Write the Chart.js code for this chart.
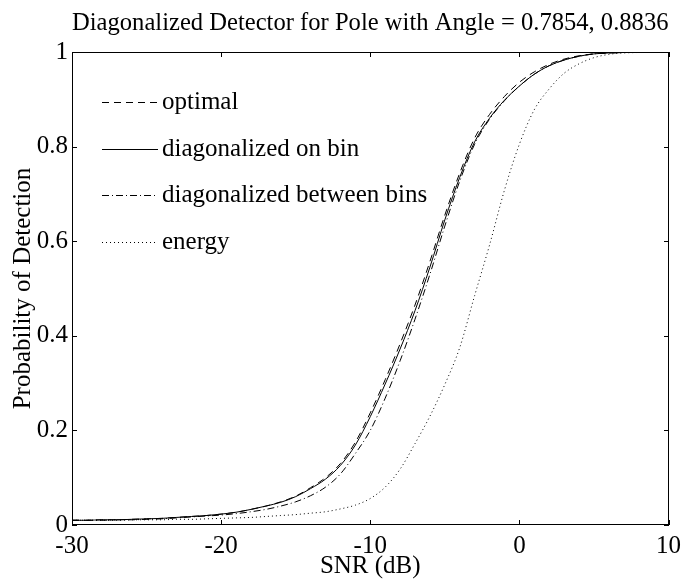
<!DOCTYPE html>
<html lang="en">
<head>
<meta charset="UTF-8">
<title>Diagonalized Detector for Pole with Angle = 0.7854, 0.8836</title>
<script src="https://cdn.jsdelivr.net/npm/chart.js"></script>
<style>
    html, body { margin: 0; padding: 0; background: #fff; }
    #wrap { width: 687px; height: 579px; }
</style>
</head>
<body>
<div id="wrap"><canvas id="pdChart" width="687" height="579"></canvas></div>
<script>
    // SNR in dB (x axis)
    const snr = [-30,-29,-28,-27,-26,-25,-24,-23,-22,-21,-20,-19,-18,-17,-16,-15,-14,-13,-12,-11,
                 -10,-9,-8,-7,-6,-5,-4,-3,-2,-1,0,1,2,3,4,5,6,7,8,9,10];

    // probability of detection
    const optimal = [.010,.010,.011,.011,.012,.013,.014,.016,.018,.020,
                     .023,.027,.033,.040,.049,.061,.079,.100,.130,.175,
                     .237,.307,.383,.465,.557,.655,.744,.818,.868,.906,
                     .936,.958,.974,.985,.992,.996,.998,.999,1,1,1];
    const onBin = [.010,.010,.011,.011,.012,.013,.014,.016,.018,.020,
                   .023,.027,.033,.040,.048,.060,.077,.097,.126,.169,
                   .229,.298,.372,.453,.545,.645,.735,.810,.860,.898,
                   .928,.953,.971,.983,.991,.996,.998,.999,1,1,1];
    const betweenBins = [.010,.010,.010,.011,.011,.012,.013,.015,.017,.019,
                         .021,.024,.028,.033,.040,.049,.062,.080,.108,.151,
                         .200,.268,.347,.435,.530,.632,.727,.805,.858,.897,
                         .928,.953,.971,.983,.991,.996,.998,.999,1,1,1];
    const energy = [.010,.010,.010,.010,.011,.011,.011,.012,.012,.013,
                    .014,.015,.016,.018,.020,.022,.025,.028,.034,.042,
                    .056,.080,.118,.172,.230,.297,.375,.485,.592,.708,
                    .805,.878,.922,.955,.975,.988,.995,.998,.999,1,1];

    const xTicks = [-30, -20, -10, 0, 10];
    const yTicks = [0, 0.2, 0.4, 0.6, 0.8, 1];

    const FONT = 'Liberation Serif, Times New Roman, serif';

    function toPoints(arr) {
        return snr.map((s, i) => ({ x: s, y: arr[i] }));
    }

    function series(label, arr, dash) {
        return {
            label: label,
            data: toPoints(arr),
            borderColor: '#000',
            borderWidth: 1,
            borderDash: dash,
            pointRadius: 0,
            fill: false,
            cubicInterpolationMode: 'monotone'
        };
    }

    // box, inward ticks and the legend, matlab style
    const matlabBox = {
        id: 'matlabBox',
        afterDatasetsDraw(chart) {
            const { ctx, chartArea: a, scales } = chart;
            const L = Math.round(a.left), R = Math.round(a.right);
            const T = Math.round(a.top), B = Math.round(a.bottom);
            ctx.save();
            ctx.strokeStyle = '#000';
            ctx.lineWidth = 1;
            ctx.setLineDash([]);
            ctx.strokeRect(L + 0.5, T + 0.5, R - L - 1, B - T - 1);
            ctx.beginPath();
            xTicks.forEach(v => {
                const px = Math.round(scales.x.getPixelForValue(v)) + 0.5;
                ctx.moveTo(px, B); ctx.lineTo(px, B - 5);
                ctx.moveTo(px, T); ctx.lineTo(px, T + 5);
            });
            yTicks.forEach(v => {
                const py = Math.round(scales.y.getPixelForValue(v)) + 0.5;
                ctx.moveTo(L, py); ctx.lineTo(L + 5, py);
                ctx.moveTo(R, py); ctx.lineTo(R - 5, py);
            });
            ctx.stroke();

            // legend
            ctx.font = '25px ' + FONT;
            ctx.fillStyle = '#000';
            ctx.textBaseline = 'middle';
            ctx.textAlign = 'left';
            chart.data.datasets.forEach((ds, i) => {
                const yy = Math.round(T + 50 + i * 46.7) + 0.5;
                ctx.beginPath();
                ctx.setLineDash(ds.borderDash);
                ctx.moveTo(L + 30, yy);
                ctx.lineTo(L + 86, yy);
                ctx.stroke();
                ctx.fillText(ds.label, L + 90, yy);
            });
            ctx.restore();
        }
    };

    new Chart(document.getElementById('pdChart'), {
        type: 'line',
        data: {
            datasets: [
                series('optimal', optimal, [7, 5]),
                series('diagonalized on bin', onBin, []),
                series('diagonalized between bins', betweenBins, [7, 3, 1, 3]),
                series('energy', energy, [1, 3])
            ]
        },
        options: {
            responsive: false,
            animation: false,
            layout: { padding: { left: 0, right: 15, top: 0, bottom: 0 } },
            scales: {
                x: {
                    type: 'linear',
                    min: -30, max: 10,
                    afterBuildTicks: s => { s.ticks = xTicks.map(v => ({ value: v })); },
                    afterFit: s => { s.height = 54; },
                    grid: { display: false, drawTicks: false },
                    border: { display: false },
                    ticks: { color: '#000', padding: 6, maxRotation: 0,
                             font: { family: FONT, size: 25 } },
                    title: { display: true, text: 'SNR (dB)', color: '#000',
                             font: { family: FONT, size: 25, lineHeight: 1 },
                             padding: { top: 0, bottom: 0 } }
                },
                y: {
                    min: 0, max: 1,
                    afterBuildTicks: s => { s.ticks = yTicks.map(v => ({ value: v })); },
                    afterFit: s => { s.width = 72; },
                    grid: { display: false, drawTicks: false },
                    border: { display: false },
                    ticks: { color: '#000', padding: 4,
                             font: { family: FONT, size: 25 },
                             callback: v => String(v) },
                    title: { display: true, text: 'Probability of Detection', color: '#000',
                             font: { family: FONT, size: 25, lineHeight: 1.2 },
                             padding: { top: 8, bottom: 0 } }
                }
            },
            plugins: {
                legend: { display: false },
                tooltip: { enabled: false },
                title: {
                    display: true,
                    fullSize: false,
                    text: 'Diagonalized Detector for Pole with Angle = 0.7854, 0.8836',
                    color: '#000',
                    font: { family: FONT, size: 25, weight: 'normal', lineHeight: 1.2 },
                    padding: { top: 8, bottom: 14 }
                }
            }
        },
        plugins: [matlabBox]
    });
</script>
</body>
</html>
